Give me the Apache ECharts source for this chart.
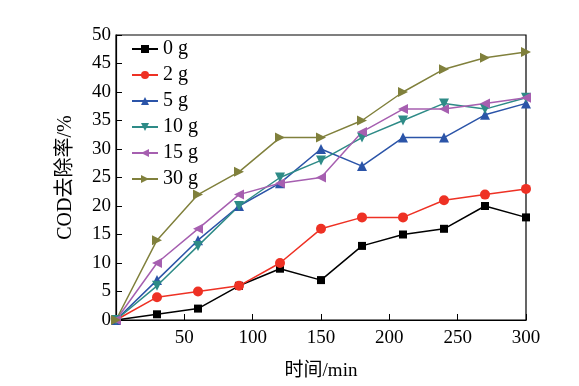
<!DOCTYPE html>
<html><head><meta charset="utf-8">
<script src="https://cdn.jsdelivr.net/npm/echarts@6/dist/echarts.min.js"></script>
<style>html,body{margin:0;padding:0;background:#fff}#c{width:579px;height:386px}</style>
</head><body><div id="c"></div>
<script>
const times = [0, 30, 60, 90, 120, 150, 180, 210, 240, 270, 300];
const seriesNames = ['0 g', '2 g', '5 g', '10 g', '15 g', '30 g'];
const v0 = [0, 1, 2, 6, 9, 7, 13, 15, 16, 20, 18];
const v2 = [0, 4, 5, 6, 10, 16, 18, 18, 21, 22, 23];
const v5 = [0, 7, 14, 20, 24, 30, 27, 32, 32, 36, 38];
const v10 = [0, 6, 13, 20, 25, 28, 32, 35, 38, 37, 39];
const v15 = [0, 10, 16, 22, 24, 25, 33, 37, 37, 38, 39];
const v30 = [0, 14, 22, 26, 32, 32, 35, 40, 44, 46, 47];
const values = [v0, v2, v5, v10, v15, v30];
const colors = ['#000000', '#ee3124', '#2b54a8', '#2e8b87', '#a65fb0', '#80803c'];
const symbols = ['rect', 'circle', 'triangle', 'triangle', 'triangle', 'triangle'];
const rotates = [0, 0, 0, 180, 90, -90];
const sizes = [8, 10, 10, 10, 10, 10];
const font = '"Liberation Serif", "Noto Sans CJK SC", serif';

const chart = echarts.init(document.getElementById('c'), null, {renderer: 'canvas'});
chart.setOption({
  animation: false,
  backgroundColor: '#fff',
  textStyle: {fontFamily: font},
  grid: {left: 116, top: 35, right: 53, bottom: 65, show: true, borderColor: '#000', borderWidth: 1.2},
  legend: {
    orient: 'vertical', left: 126, top: 34, itemGap: 6, itemWidth: 26, itemHeight: 10,
    textStyle: {fontFamily: font, fontSize: 20, color: '#000'},
    data: seriesNames
  },
  xAxis: {
    type: 'value', min: 0, max: 300, interval: 50,
    name: '时间/min', nameLocation: 'middle', nameGap: 42,
    nameTextStyle: {fontFamily: font, fontSize: 19, color: '#000'},
    axisLine: {onZero: false, lineStyle: {color: '#000', width: 1.2}},
    axisTick: {inside: true, length: 6, lineStyle: {color: '#000'}},
    axisLabel: {showMinLabel: false, fontFamily: font, fontSize: 19, color: '#000', margin: 9},
    splitLine: {show: false}
  },
  yAxis: {
    type: 'value', min: 0, max: 50, interval: 5,
    name: 'COD去除率/%', nameLocation: 'middle', nameGap: 40,
    nameTextStyle: {fontFamily: font, fontSize: 20, color: '#000'},
    axisLine: {show: true, lineStyle: {color: '#000', width: 1.2}},
    axisTick: {inside: true, length: 6, lineStyle: {color: '#000'}},
    axisLabel: {fontFamily: font, fontSize: 19, color: '#000', margin: 5},
    splitLine: {show: false}
  },
  series: seriesNames.map((n, i) => ({
    name: n, type: 'line',
    data: times.map((t, j) => [t, values[i][j]]),
    symbol: symbols[i], symbolSize: sizes[i], symbolRotate: rotates[i],
    showAllSymbol: true,
    lineStyle: {color: colors[i], width: 1.5},
    itemStyle: {color: colors[i], borderWidth: 0}
  }))
});
</script></body></html>
